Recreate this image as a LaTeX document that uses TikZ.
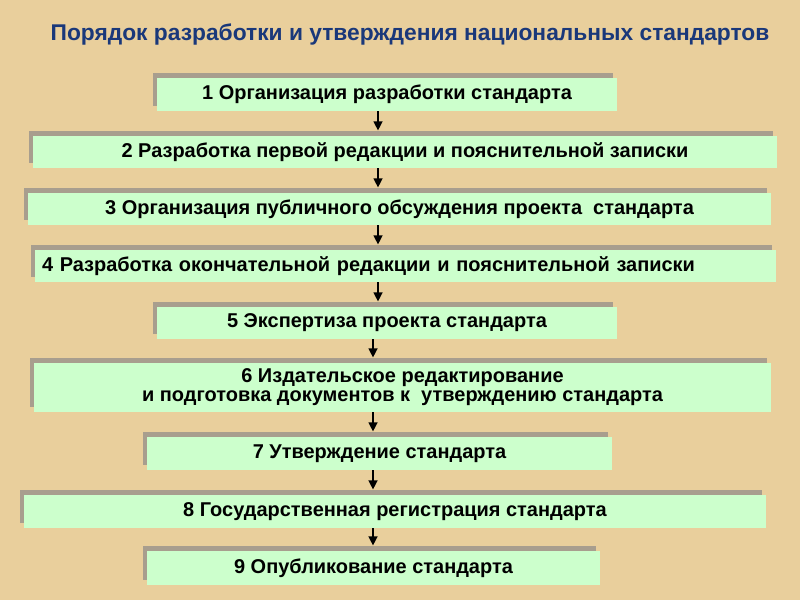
\documentclass[tikz,border=0pt]{standalone}
\usepackage{fontspec}
\setmainfont{Liberation Sans}
\usetikzlibrary{arrows.meta,shadows}
\newlength\pxu
\setlength\pxu{0.025cm}
\definecolor{fond}{RGB}{233,207,156}
\definecolor{vertclair}{RGB}{204,255,204}
\definecolor{ombre}{RGB}{168,158,142}
\definecolor{titrebleu}{RGB}{26,56,122}

\begin{document}
\begin{tikzpicture}[x=0.025cm, y=-0.025cm]
\tikzset{etape/.style={fill=vertclair, minimum height=32\pxu, inner sep=0pt,
    font=\bfseries\fontsize{14.2}{13.6}\selectfont, align=center,
    drop shadow={shadow xshift=-0.1cm, shadow yshift=0.13cm, fill=ombre, opacity=1}},
  fleche/.style={-{Triangle[length=0.23cm, width=0.22cm]}, line width=1.5pt}}
\fill[fond] (0, 0) rectangle (800, 600);
\node[font=\bfseries\fontsize{16.2}{19}\selectfont, text=titrebleu] (T) at (410, 35)
  {Порядок разработки и утверждения национальных стандартов};
\node[etape, minimum width=460\pxu, minimum height=33\pxu] (E1) at (387, 94.5) {1 Организация разработки стандарта};
\node[etape, minimum width=744\pxu] (E2) at (405, 152) {2 Разработка первой редакции и пояснительной записки};
\node[etape, minimum width=743\pxu] (E3) at (399.5, 209) {3 Организация публичного обсуждения проекта~ стандарта};
\node[etape, minimum width=741\pxu, align=left, text width=727\pxu] (E4) at (405.5, 266) {4 Разработка окончательной редакции и пояснительной записки};
\node[etape, minimum width=460\pxu] (E5) at (387, 323) {5 Экспертиза проекта стандарта};
\node[etape, minimum width=737\pxu, minimum height=49\pxu] (E6) at (402.5, 387.5) {6 Издательское редактирование\\ и подготовка документов к~ утверждению стандарта};
\node[etape, minimum width=465\pxu, minimum height=33\pxu] (E7) at (379.5, 453.5) {7 Утверждение стандарта};
\node[etape, minimum width=742\pxu, minimum height=33\pxu] (E8) at (395, 511.5) {8 Государственная регистрация стандарта};
\node[etape, minimum width=453\pxu, minimum height=34\pxu] (E9) at (373.5, 568) {9 Опубликование стандарта};
\coordinate (A) at (378, 0);
\coordinate (B) at (373, 0);
\draw[fleche] (E1.south -| A) -- ([yshift=0.13cm]E2.north -| A);
\draw[fleche] (E2.south -| A) -- ([yshift=0.13cm]E3.north -| A);
\draw[fleche] (E3.south -| A) -- ([yshift=0.13cm]E4.north -| A);
\draw[fleche] (E4.south -| A) -- ([yshift=0.13cm]E5.north -| A);
\draw[fleche] (E5.south -| B) -- ([yshift=0.13cm]E6.north -| B);
\draw[fleche] (E6.south -| B) -- ([yshift=0.13cm]E7.north -| B);
\draw[fleche] (E7.south -| B) -- ([yshift=0.13cm]E8.north -| B);
\draw[fleche] (E8.south -| B) -- ([yshift=0.13cm]E9.north -| B);
\end{tikzpicture}
\end{document}
